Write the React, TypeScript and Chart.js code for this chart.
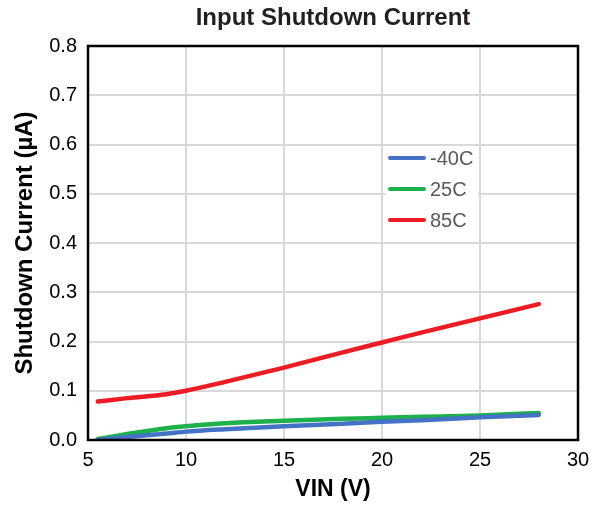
import React, { useEffect, useRef } from "react";
import { Chart, registerables } from "chart.js";

Chart.register(...registerables);

const vinM40 = [5.5, 7, 9, 10, 12, 15, 18, 20, 22, 25, 28];
const iM40 = [0.0, 0.006, 0.013, 0.017, 0.022, 0.028, 0.033, 0.037, 0.04, 0.046, 0.051];
const vin25 = [5.5, 7, 9, 10, 12, 15, 18, 20, 22, 25, 28];
const i25 = [0.002, 0.012, 0.024, 0.028, 0.034, 0.039, 0.043, 0.045, 0.047, 0.05, 0.055];
const vin85 = [5.5, 7, 9, 10, 12, 15, 18, 20, 22, 25, 28];
const i85 = [0.078, 0.085, 0.093, 0.1, 0.118, 0.147, 0.178, 0.198, 0.218, 0.247, 0.276];

const seriesNames = ["-40C", "25C", "85C"];
const seriesColors = ["#4472C4", "#1DB04B", "#ED1C24"];
const xTicks = [5, 10, 15, 20, 25, 30];
const yTicks = [0, 0.1, 0.2, 0.3, 0.4, 0.5, 0.6, 0.7, 0.8];
const chartTitle = "Input Shutdown Current";

const FONT = "'Liberation Sans', Arial, sans-serif";

const toPts = (xs: number[], ys: number[]) => xs.map((x, i) => ({ x, y: ys[i] }));

const frameAndLegend = {
  id: "frameAndLegend",
  afterDatasetsDraw(chart: any) {
    const { ctx, chartArea } = chart;
    ctx.save();
    // legend box
    const bx = 386, by = 146, bw = 92, bh = 82;
    ctx.fillStyle = "#ffffff";
    ctx.fillRect(bx, by, bw, bh);
    ctx.font = `20px ${FONT}`;
    ctx.textBaseline = "middle";
    ctx.textAlign = "left";
    chart.data.datasets.forEach((ds: any, i: number) => {
      const y = 158 + i * 31;
      ctx.strokeStyle = ds.borderColor;
      ctx.lineWidth = 4;
      ctx.lineCap = "round";
      ctx.beginPath();
      ctx.moveTo(390, y);
      ctx.lineTo(424, y);
      ctx.stroke();
      ctx.fillStyle = "#595959";
      ctx.fillText(ds.label, 430, y + 1);
    });
    // frame
    ctx.strokeStyle = "#000000";
    ctx.lineWidth = 2.5;
    ctx.lineCap = "butt";
    ctx.strokeRect(chartArea.left, chartArea.top, chartArea.right - chartArea.left, chartArea.bottom - chartArea.top);
    // title centred over plot area
    ctx.font = `bold 24px ${FONT}`;
    ctx.fillStyle = "#231F20";
    ctx.textAlign = "center";
    ctx.textBaseline = "middle";
    ctx.fillText(chartTitle, (chartArea.left + chartArea.right) / 2, 18);
    ctx.restore();
  },
};

export default function App() {
  const ref = useRef<HTMLCanvasElement | null>(null);
  useEffect(() => {
    if (!ref.current) return;
    const data = [toPts(vinM40, iM40), toPts(vin25, i25), toPts(vin85, i85)];
    const chart = new Chart(ref.current, {
      type: "line",
      data: {
        datasets: data.map((d, i) => ({
          label: seriesNames[i],
          data: d,
          borderColor: seriesColors[i],
          backgroundColor: seriesColors[i],
          borderWidth: 4.5,
          pointRadius: 0,
          tension: 0.4,
          cubicInterpolationMode: "monotone" as const,
          borderCapStyle: "round" as const,
        })),
      },
      options: {
        animation: false,
        responsive: false,
        maintainAspectRatio: false,
        layout: { padding: { left: 0, right: 23, top: 46, bottom: 0 } },
        plugins: {
          legend: { display: false },
          tooltip: { enabled: false },
          title: { display: false },
        },
        scales: {
          x: {
            type: "linear",
            min: 5,
            max: 30,
            afterBuildTicks: (s: any) => {
              s.ticks = xTicks.map((v) => ({ value: v }));
            },
            afterFit: (s: any) => {
              s.height = 66;
            },
            ticks: {
              color: "#000000",
              font: { family: FONT, size: 20 },
              padding: 8,
              maxRotation: 0,
            },
            grid: { color: "#D9D9D9", lineWidth: 2, drawTicks: false },
            border: { display: false },
            title: {
              display: true,
              text: "VIN (V)",
              color: "#000000",
              font: { family: FONT, size: 23, weight: "bold" },
              padding: { top: 0, bottom: 3 },
            },
          },
          y: {
            type: "linear",
            min: 0,
            max: 0.8,
            afterBuildTicks: (s: any) => {
              s.ticks = yTicks.map((v) => ({ value: v }));
            },
            afterFit: (s: any) => {
              s.width = 88;
            },
            ticks: {
              color: "#000000",
              font: { family: FONT, size: 20 },
              padding: 11,
              callback: (v: any) => Number(v).toFixed(1),
            },
            grid: { color: "#D9D9D9", lineWidth: 2, drawTicks: false },
            border: { display: false },
            title: {
              display: true,
              text: "Shutdown Current (µA)",
              color: "#000000",
              font: { family: FONT, size: 24, weight: "bold" },
              padding: { top: 11, bottom: 0 },
            },
          },
        },
      },
      plugins: [frameAndLegend],
    });
    return () => chart.destroy();
  }, []);
  return (
    <div style={{ position: "absolute", left: 0, top: 0, width: 601, height: 506, background: "#fff" }}>
      <canvas ref={ref} width={601} height={506} style={{ width: 601, height: 506 }} />
    </div>
  );
}
